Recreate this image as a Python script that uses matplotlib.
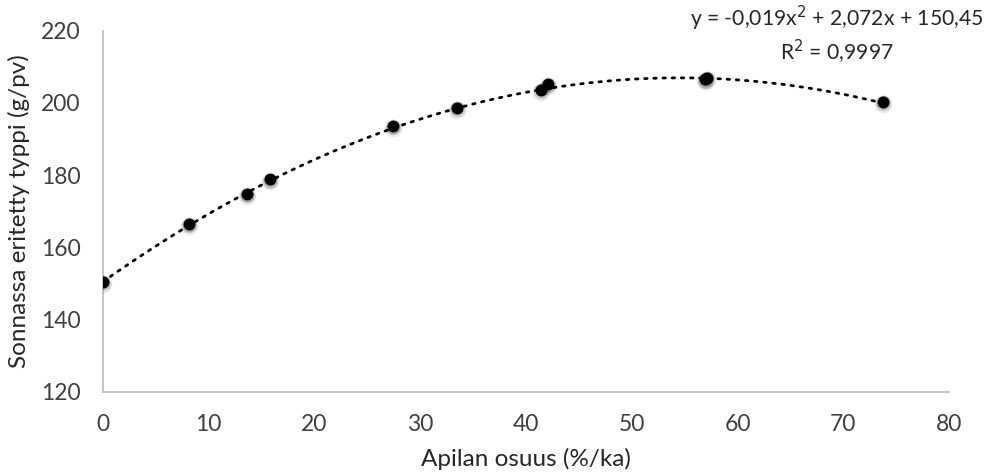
import numpy as np
import matplotlib.pyplot as plt

# Apilan osuus (%/ka) ja sonnassa eritetty typpi (g/pv)
apila = [0.0, 8.1, 13.6, 15.8, 27.4, 33.5, 41.4, 42.1, 56.9, 57.1, 73.8]
typpi = [150.5, 166.4, 174.7, 178.8, 193.6, 198.7, 203.6, 205.2, 206.5, 207.0, 200.3]

# 2. asteen trendiviivan kertoimet
kertoimet = [-0.019, 2.072, 150.45]
r2 = 0.9997

X_TICKS = [0, 10, 20, 30, 40, 50, 60, 70, 80]
Y_TICKS = [120, 140, 160, 180, 200, 220]

plt.rcParams['font.family'] = ['Lato', 'DejaVu Sans']

fig = plt.figure(figsize=(9.89, 4.75), dpi=100)
ax = fig.add_axes([0.1041, 0.1754, 0.8555, 0.76])

# trendiviiva datan alueelle
xs = np.linspace(min(apila), max(apila), 300)
ax.plot(xs, np.polyval(kertoimet, xs), color='black', lw=2.0,
        linestyle=(0, (0.9, 2.4)), dash_capstyle='round', zorder=2)

# pisteet varjolla
for off, a in [(1.8, 0.08), (1.1, 0.13), (0.5, 0.2)]:
    ax.plot(apila, np.array(typpi) - off * 0.3, 'o', color='black',
            ms=8.5 + off * 2.4, mew=0, alpha=a, zorder=3)
ax.plot(apila, typpi, 'o', color='black', ms=8.5, mew=0, zorder=4)

ax.set_xlim(0, 80)
ax.set_ylim(120, 220)
ax.set_xticks(X_TICKS)
ax.set_yticks(Y_TICKS)
ax.tick_params(length=0, labelsize=16.5, colors='#404040')
ax.tick_params(axis='x', pad=16)
ax.tick_params(axis='y', pad=16)
for s in ['top', 'right']:
    ax.spines[s].set_visible(False)
for s in ['left', 'bottom']:
    ax.spines[s].set_color('#BFBFBF')
    ax.spines[s].set_linewidth(1.3)

ax.set_xlabel('Apilan osuus (%/ka)', fontsize=17.5, color='#262626', labelpad=9)
ax.set_ylabel('Sonnassa eritetty typpi (g/pv)', fontsize=17.5, color='#262626', labelpad=8)

a, b, c = kertoimet
yht = ('y = ' + f'{a:.3f}'.replace('.', ',') + 'x$^2$ + '
       + f'{b:.3f}'.replace('.', ',') + 'x + ' + f'{c:.2f}'.replace('.', ',')
       + '\nR$^2$ = ' + f'{r2:.4f}'.replace('.', ','))
fig.text(836.7 / 989, 1 - 35 / 475, yht, ha='center', va='center',
         fontsize=15.2, color='#262626', linespacing=1.25)

fig.savefig('out.png', dpi=100)
